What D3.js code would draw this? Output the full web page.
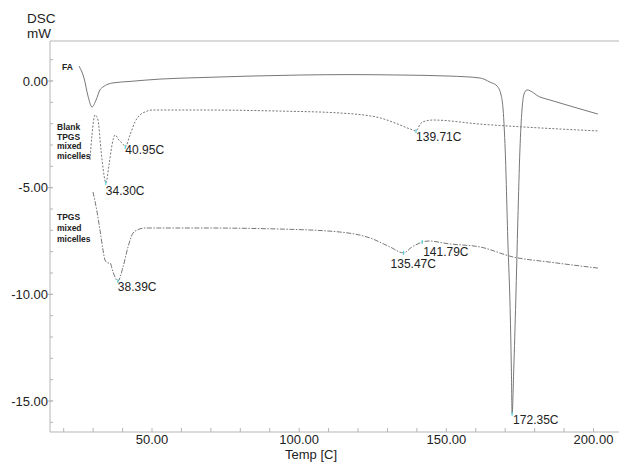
<!DOCTYPE html>
<html><head><meta charset="utf-8">
<script src="https://cdn.jsdelivr.net/npm/d3@7"></script>
<style>body{margin:0;background:#fff}svg{display:block}text{font-family:"Liberation Sans",Arial,sans-serif;fill:#222}</style>
</head><body><svg id="c" width="619" height="462"></svg>
<script>
// Data (Temperature °C, heat flow mW)
const faTemp = [25.2,26.9,28.25,29.6,31.0,32.3,33.35,36.75,42.5,52.7,66.3,83.3,100.3,117.3,134.3,151.3,161.5,164.8,167.2,168.6,169.3,170.0,171.0,171.6,172.1,172.35,172.9,173.6,174.3,175.0,175.7,176.4,177.4,181.8,185.2,192.0,201.5];
const faMW   = [0.70,0.14,-0.70,-1.22,-0.89,-0.42,-0.28,-0.09,-0.02,0.09,0.16,0.23,0.28,0.30,0.28,0.23,0.14,-0.05,-0.23,-0.66,-1.36,-3.23,-7.92,-10.27,-13.55,-15.6,-13.55,-10.27,-6.52,-3.23,-1.36,-0.61,-0.42,-0.75,-0.89,-1.17,-1.55];

const blankTemp = [28.93,29.61,30.63,31.65,32.67,33.69,34.30,35.39,36.41,37.43,38.79,40.15,40.95,42.52,44.22,45.92,47.62,50.0,66.3,93.5,113.9,127.5,132.6,137.7,139.71,141.1,142.8,145.5,161.5,181.8,201.5];
const blankMW   = [-3.70,-2.53,-1.59,-1.83,-3.23,-4.41,-4.78,-3.94,-3.00,-2.53,-2.77,-2.95,-3.09,-2.53,-1.92,-1.59,-1.45,-1.36,-1.36,-1.41,-1.50,-1.73,-1.97,-2.25,-2.34,-2.02,-1.88,-1.83,-2.02,-2.20,-2.34];

const tpgsTemp = [29.95,31.33,32.33,33.35,34.03,35.05,35.73,36.75,38.39,40.15,41.85,43.54,44.90,47.62,66.3,93.5,113.9,124.1,130.9,135.47,138.3,141.1,141.79,143.8,151.3,161.5,172.7,185.2,201.5];
const tpgsMW   = [-5.20,-6.14,-6.99,-7.92,-8.39,-8.53,-8.53,-8.95,-9.38,-8.72,-7.78,-7.13,-6.99,-6.89,-6.89,-6.94,-7.08,-7.36,-7.78,-8.06,-7.78,-7.59,-7.55,-7.50,-7.64,-7.78,-8.25,-8.49,-8.77];

const peakTemp = [34.30,40.95,139.71,38.39,135.47,141.79,172.35];
const peakMW   = [-4.78,-3.09,-2.34,-9.38,-8.06,-7.55,-15.6];
const peakLabels = ["34.30C","40.95C","139.71C","38.39C","135.47C","141.79C","172.35C"];
const peakDx = [0,0,0,0,-13,1,1];
const peakDy = [12,7,10,10,15,14,10];

const xTicks = [50,100,150,200];
const xTickLabels = ["50.00","100.00","150.00","200.00"];
const yTicks = [0,-5,-10,-15];
const yTickLabels = ["0.00","-5.00","-10.00","-15.00"];

const seriesNames = [["FA"],["Blank","TPGS","mixed","micelles"],["TPGS","mixed","micelles"]];

const svg = d3.select("#c");
const L=50, R=619, T=41, B=432;
const x = d3.scaleLinear().domain([50,200]).range([152,593.5]);
const y = d3.scaleLinear().domain([0,-15]).range([81,401]);

const axisCol="#b5b5b5";
// frame
svg.append("line").attr("x1",L).attr("x2",L).attr("y1",T).attr("y2",B).attr("stroke",axisCol);
svg.append("line").attr("x1",L).attr("x2",R).attr("y1",T).attr("y2",T).attr("stroke",axisCol);
svg.append("line").attr("x1",L).attr("x2",R).attr("y1",B).attr("y2",B).attr("stroke",axisCol);

// x ticks (minor every 10)
const xMinor = d3.range(20,210,10).filter(v=>x(v)>L && x(v)<R);
svg.selectAll(".xm").data(xMinor).enter().append("line")
  .attr("x1",d=>x(d)).attr("x2",d=>x(d)).attr("y1",B).attr("y2",B-4).attr("stroke",axisCol);
svg.selectAll(".xl").data(xTicks).enter().append("text")
  .attr("x",d=>x(d)).attr("y",B+12).attr("text-anchor","middle").attr("font-size",13).text((d,i)=>xTickLabels[i]);

// y ticks (minor every 1)
const yMinor = d3.range(-16,2,1).filter(v=>y(v)>T && y(v)<B);
svg.selectAll(".ym").data(yMinor).enter().append("line")
  .attr("x1",L).attr("x2",L+3).attr("y1",d=>y(d)).attr("y2",d=>y(d)).attr("stroke",axisCol);
svg.selectAll(".yM").data(yTicks).enter().append("line")
  .attr("x1",L-2).attr("x2",L+3).attr("y1",d=>y(d)).attr("y2",d=>y(d)).attr("stroke",axisCol);
svg.selectAll(".yl").data(yTicks).enter().append("text")
  .attr("x",L-2).attr("y",d=>y(d)+4.5).attr("text-anchor","end").attr("font-size",13).text((d,i)=>yTickLabels[i]);

// axis titles
svg.append("text").attr("x",27).attr("y",23).attr("font-size",13.5).text("DSC");
svg.append("text").attr("x",27).attr("y",38).attr("font-size",13.5).text("mW");
svg.append("text").attr("x",311).attr("y",459).attr("text-anchor","middle").attr("font-size",13).text("Temp [C]");

// curves
svg.append("clipPath").attr("id","clip").append("rect").attr("x",L).attr("y",T).attr("width",R-L).attr("height",B-T);
const g = svg.append("g").attr("clip-path","url(#clip)");
const line = d3.line().x(d=>x(d[0])).y(d=>y(d[1])).curve(d3.curveMonotoneX);
const series = [
  {t:faTemp,v:faMW,dash:null},
  {t:blankTemp,v:blankMW,dash:"2,1.6"},
  {t:tpgsTemp,v:tpgsMW,dash:"5,1.5,1.5,1.5"}
];
series.forEach(s=>{
  g.append("path").datum(s.t.map((t,i)=>[t,s.v[i]])).attr("d",line)
   .attr("fill","none").attr("stroke","#777").attr("stroke-width",1)
   .attr("stroke-dasharray",s.dash);
});

// peak markers and labels
peakTemp.forEach((t,i)=>{
  svg.append("line").attr("x1",x(t)).attr("x2",x(t)).attr("y1",y(peakMW[i])-2).attr("y2",y(peakMW[i])+2)
    .attr("stroke","#5fd3dd").attr("stroke-width",1.2);
  svg.append("text").attr("x",x(t)+peakDx[i]).attr("y",y(peakMW[i])+peakDy[i]).attr("font-size",12).text(peakLabels[i]);
});

// series name labels
const nameX=[62,57,57], nameY=[70,130,220], nameStep=[0,9.6,11];
seriesNames.forEach((arr,k)=>{
  arr.forEach((w,j)=>{
    svg.append("text").attr("x",nameX[k]).attr("y",nameY[k]+j*nameStep[k]).attr("font-size",8.5)
      .attr("font-weight","bold").text(w);
  });
});
</script></body></html>
